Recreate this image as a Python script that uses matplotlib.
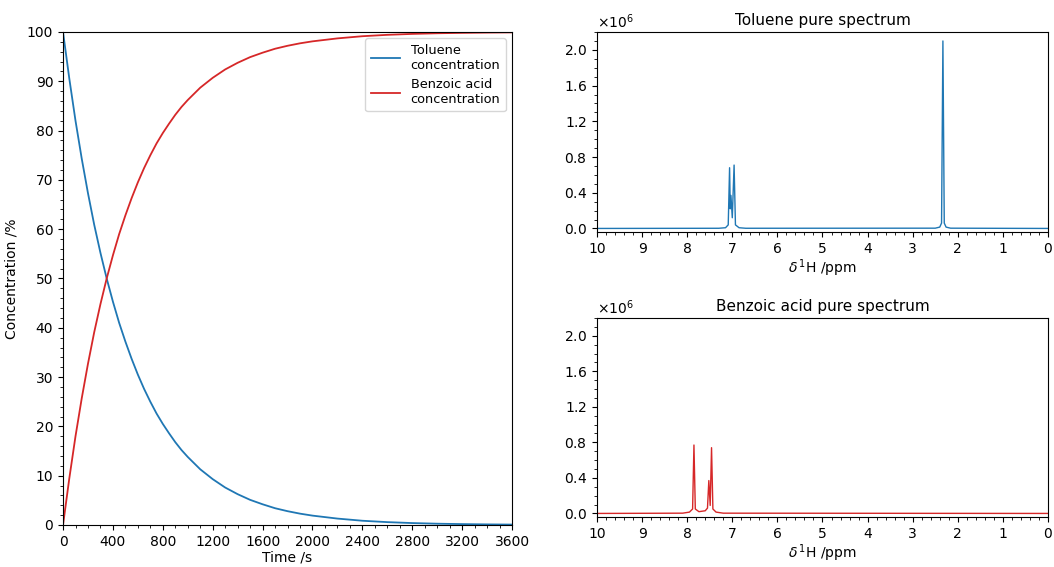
import matplotlib
matplotlib.use("Agg")
import matplotlib.pyplot as plt
from matplotlib.ticker import MultipleLocator, AutoMinorLocator

# ---- concentration profiles ----
time_s = [0, 50, 100, 150, 200, 250, 300, 350, 400, 450, 500, 550, 600, 650,
          700, 750, 800, 850, 900, 950, 1000, 1100, 1200, 1300, 1400, 1500,
          1600, 1700, 1800, 1900, 2000, 2200, 2400, 2600, 2800, 3000, 3200,
          3400, 3600]
toluene_pct = [100, 90.6, 82.0, 74.3, 67.3, 60.9, 55.2, 50.0, 45.3, 41.0, 37.2,
               33.7, 30.5, 27.6, 25.0, 22.6, 20.5, 18.6, 16.8, 15.2, 13.8, 11.3,
               9.3, 7.6, 6.25, 5.1, 4.2, 3.4, 2.8, 2.3, 1.9, 1.3, 0.86, 0.58,
               0.39, 0.26, 0.18, 0.12, 0.08]
benzoic_pct = [0, 9.4, 18.0, 25.7, 32.7, 39.1, 44.8, 50.0, 54.7, 59.0, 62.8,
               66.3, 69.5, 72.4, 75.0, 77.4, 79.5, 81.4, 83.2, 84.8, 86.2, 88.7,
               90.7, 92.4, 93.75, 94.9, 95.8, 96.6, 97.2, 97.7, 98.1, 98.7,
               99.14, 99.42, 99.61, 99.74, 99.82, 99.88, 99.92]

# ---- pure spectra (ppm, intensity) ----
tol_ppm = [10.0, 7.30, 7.15, 7.09, 7.06, 7.045, 7.03, 7.00, 6.96, 6.93, 6.85,
           6.70, 2.50, 2.40, 2.36, 2.33, 2.30, 2.26, 2.16, 0.0]
tol_int = [0, 2e3, 8e3, 4e4, 6.8e5, 2.2e5, 3.7e5, 1.2e5, 7.1e5, 4e4, 8e3,
           2e3, 3e3, 1.5e4, 6e4, 2.10e6, 6e4, 1.5e4, 3e3, 0]

benz_ppm = [10.0, 8.10, 7.95, 7.88, 7.85, 7.82, 7.74, 7.60, 7.55, 7.52, 7.49,
            7.46, 7.43, 7.36, 7.20, 0.0]
benz_int = [0, 3e3, 1.5e4, 5e4, 7.7e5, 5e4, 2e4, 3e4, 6e4, 3.7e5, 9e4,
            7.4e5, 5e4, 1.5e4, 3e3, 0]

BLUE = "#1f77b4"
RED = "#d62728"

fig = plt.figure(figsize=(10.54, 5.67), dpi=100)

ax1 = fig.add_axes([0.0598, 0.0741, 0.426, 0.8695])
ax1.plot(time_s, toluene_pct, color=BLUE, lw=1.3, label="Toluene\nconcentration")
ax1.plot(time_s, benzoic_pct, color=RED, lw=1.3, label="Benzoic acid\nconcentration")
ax1.set_xlim(0, 3600)
ax1.set_ylim(0, 100)
ax1.xaxis.set_major_locator(MultipleLocator(400))
ax1.yaxis.set_major_locator(MultipleLocator(10))
ax1.xaxis.set_minor_locator(AutoMinorLocator(4))
ax1.yaxis.set_minor_locator(AutoMinorLocator(5))
ax1.set_xlabel("Time /s", fontsize=10, labelpad=1)
ax1.set_ylabel("Concentration /%", fontsize=10, labelpad=6)
ax1.tick_params(labelsize=10)
ax1.legend(loc="upper right", fontsize=9.3, handlelength=2.3,
           borderaxespad=0.5)

def spec_axis(rect, x, y, color, title):
    ax = fig.add_axes(rect)
    ax.plot(x, y, color=color, lw=1.0)
    ax.set_xlim(10, 0)
    ax.set_ylim(-0.04e6, 2.2e6)
    ax.xaxis.set_major_locator(MultipleLocator(1))
    ax.xaxis.set_minor_locator(AutoMinorLocator(5))
    ax.yaxis.set_major_locator(MultipleLocator(0.4e6))
    ax.yaxis.set_minor_locator(AutoMinorLocator(4))
    ax.ticklabel_format(axis="y", style="sci", scilimits=(0, 0), useMathText=True)
    ax.set_title(title, fontsize=11, pad=5)
    ax.set_xlabel(r"$\delta\,^{1}$H /ppm", fontsize=10, labelpad=1)
    ax.tick_params(labelsize=10)
    return ax

spec_axis([0.5664, 0.5908, 0.4279, 0.3527], tol_ppm, tol_int, BLUE,
          "Toluene pure spectrum")
spec_axis([0.5664, 0.0882, 0.4279, 0.351], benz_ppm, benz_int, RED,
          "Benzoic acid pure spectrum")

fig.savefig("out.png", dpi=100)
